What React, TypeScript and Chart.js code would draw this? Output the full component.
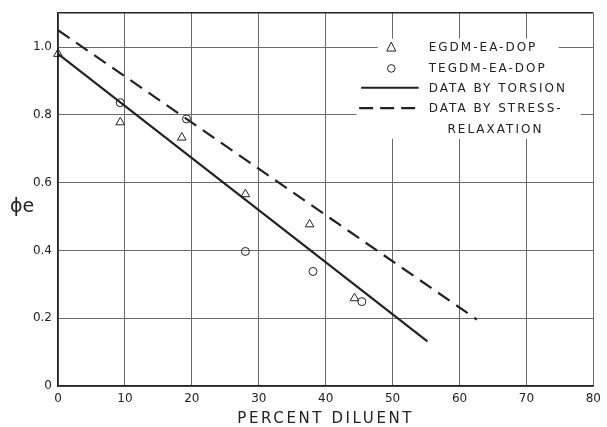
import React, { useEffect, useRef } from "react";
import { Chart, registerables } from "chart.js";

Chart.register(...registerables);

// EGDM-EA-DOP (triangles)
const egdmX = [0, 9.3, 18.5, 28.0, 37.6, 44.3];
const egdmY = [0.98, 0.778, 0.733, 0.566, 0.477, 0.259];
// TEGDM-EA-DOP (circles)
const tegdmX = [9.3, 19.2, 28.0, 38.1, 45.4];
const tegdmY = [0.836, 0.788, 0.397, 0.338, 0.249];
// Data by torsion (solid line)
const torsionX = [0, 55.2];
const torsionY = [0.98, 0.132];
// Data by stress-relaxation (dashed line)
const stressX = [0, 62.6];
const stressY = [1.05, 0.196];

const xTicks = [0, 10, 20, 30, 40, 50, 60, 70, 80];
const yTickLabels = ["0", "0.2", "0.4", "0.6", "0.8", "1.0"];
const legendLabels = ["EGDM-EA-DOP", "TEGDM-EA-DOP", "DATA BY TORSION", "DATA BY STRESS-", "RELAXATION"];
const xTitle = "PERCENT DILUENT";
const yTitle = "ϕe";

const ink = "#222";
const gridCol = "#6a6a6a";
const FONT = "'DejaVu Sans', sans-serif";

const pts = (xs: number[], ys: number[]) => xs.map((x, i) => ({ x, y: ys[i] }));

const decorPlugin = {
  id: "decor",
  beforeDatasetsDraw(chart: any) {
    const ctx = chart.ctx as CanvasRenderingContext2D;
    const xs = chart.scales.x;
    const ys = chart.scales.y;
    ctx.save();
    // white legend background that interrupts the grid
    ctx.fillStyle = "#fff";
    const lx0 = xs.getPixelForValue(47.8);
    const lx1 = xs.getPixelForValue(74.8);
    const lx2 = xs.getPixelForValue(44.6);
    const lx3 = xs.getPixelForValue(78.1);
    const ly0 = ys.getPixelForValue(1.025);
    const ly1 = ys.getPixelForValue(0.925);
    const ly2 = ys.getPixelForValue(0.73);
    ctx.fillRect(lx0, ly0, lx1 - lx0, ly2 - ly0);
    ctx.fillRect(lx2, ly1, lx3 - lx2, ly2 - ly1);

    // legend entries
    const rowY = [1.0, 0.94, 0.88, 0.82, 0.76].map((v) => ys.getPixelForValue(v));
    const mx = xs.getPixelForValue(49.8);
    const lineA = xs.getPixelForValue(45.3);
    const lineB = xs.getPixelForValue(53.9);
    const tx = xs.getPixelForValue(55.4);
    ctx.strokeStyle = ink;
    ctx.lineWidth = 1;
    // triangle
    ctx.beginPath();
    ctx.moveTo(mx, rowY[0] - 5);
    ctx.lineTo(mx + 4.5, rowY[0] + 4);
    ctx.lineTo(mx - 4.5, rowY[0] + 4);
    ctx.closePath();
    ctx.stroke();
    // circle
    ctx.beginPath();
    ctx.arc(mx, rowY[1] + 1, 3.8, 0, Math.PI * 2);
    ctx.stroke();
    // solid
    ctx.lineWidth = 2.2;
    ctx.beginPath();
    ctx.moveTo(lineA, rowY[2]);
    ctx.lineTo(lineB, rowY[2]);
    ctx.stroke();
    // dashed
    ctx.setLineDash([14, 7]);
    ctx.beginPath();
    ctx.moveTo(lineA - 2, rowY[3]);
    ctx.lineTo(lineB, rowY[3]);
    ctx.stroke();
    ctx.setLineDash([]);

    ctx.fillStyle = ink;
    ctx.font = `12px ${FONT}`;
    (ctx as any).letterSpacing = "2px";
    ctx.textBaseline = "middle";
    ctx.textAlign = "left";
    for (let i = 0; i < 4; i++) ctx.fillText(legendLabels[i], tx, rowY[i] + 1);
    ctx.fillText(legendLabels[4], xs.getPixelForValue(58.2), rowY[4] + 1);
    ctx.restore();
  },
  afterDraw(chart: any) {
    const ctx = chart.ctx as CanvasRenderingContext2D;
    const area = chart.chartArea;
    ctx.save();
    ctx.fillStyle = ink;
    ctx.textBaseline = "middle";
    ctx.textAlign = "center";
    ctx.font = `15px ${FONT}`;
    (ctx as any).letterSpacing = "2.6px";
    ctx.fillText(xTitle, (area.left + area.right) / 2, 419);
    (ctx as any).letterSpacing = "0px";
    ctx.textAlign = "left";
    ctx.font = `19px ${FONT}`;
    ctx.fillText(yTitle, 10, 207);
    ctx.restore();
  },
};

export default function App() {
  const ref = useRef<HTMLCanvasElement | null>(null);
  useEffect(() => {
    if (!ref.current) return;
    const chart = new Chart(ref.current, {
      type: "scatter",
      data: {
        datasets: [
          {
            label: legendLabels[0],
            data: pts(egdmX, egdmY),
            pointStyle: "triangle",
            pointRadius: 5,
            borderColor: ink,
            backgroundColor: "rgba(0,0,0,0)",
            borderWidth: 1,
            clip: false,
          },
          {
            label: legendLabels[1],
            data: pts(tegdmX, tegdmY),
            pointStyle: "circle",
            pointRadius: 4,
            borderColor: ink,
            backgroundColor: "rgba(0,0,0,0)",
            borderWidth: 1,
            clip: false,
          },
          {
            label: legendLabels[2],
            data: pts(torsionX, torsionY),
            showLine: true,
            pointRadius: 0,
            borderColor: ink,
            borderWidth: 2.2,
          },
          {
            label: legendLabels[3],
            data: pts(stressX, stressY),
            showLine: true,
            pointRadius: 0,
            borderColor: ink,
            borderWidth: 2.2,
            borderDash: [14, 8],
          },
        ],
      } as any,
      options: {
        animation: false,
        responsive: true,
        maintainAspectRatio: false,
        layout: { padding: { top: 12, right: 10, left: 0, bottom: 0 } },
        plugins: { legend: { display: false }, tooltip: { enabled: false } },
        scales: {
          x: {
            type: "linear",
            min: xTicks[0],
            max: xTicks[xTicks.length - 1],
            afterFit: (s: any) => {
              s.height = 41;
            },
            afterBuildTicks: (s: any) => {
              s.ticks = xTicks.map((v) => ({ value: v }));
            },
            ticks: {
              color: ink,
              font: { family: FONT, size: 12 },
              padding: 6,
              maxRotation: 0,
              autoSkip: false,
            },
            grid: { color: gridCol, lineWidth: 1, drawTicks: false },
            border: { display: true, color: ink, width: 1.5 },
          },
          y: {
            type: "linear",
            min: 0,
            max: 1.1,
            afterFit: (s: any) => {
              s.width = 58;
            },
            afterBuildTicks: (s: any) => {
              s.ticks = [0, 0.2, 0.4, 0.6, 0.8, 1.0, 1.1].map((v) => ({ value: v }));
            },
            ticks: {
              color: ink,
              font: { family: FONT, size: 12 },
              padding: 6,
              autoSkip: false,
              callback: (v: any, i: number) => (i < yTickLabels.length ? yTickLabels[i] : ""),
            },
            grid: {
              color: (c: any) => (c.tick && c.tick.value > 1.05 ? ink : gridCol),
              lineWidth: (c: any) => (c.tick && c.tick.value > 1.05 ? 1.5 : 1),
              drawTicks: false,
            },
            border: { display: true, color: ink, width: 1.5 },
          },
        },
      },
      plugins: [decorPlugin],
    } as any);
    return () => chart.destroy();
  }, []);
  return (
    <div style={{ position: "absolute", left: 0, top: 0, width: 607, height: 427, background: "#fff" }}>
      <canvas ref={ref} />
    </div>
  );
}
